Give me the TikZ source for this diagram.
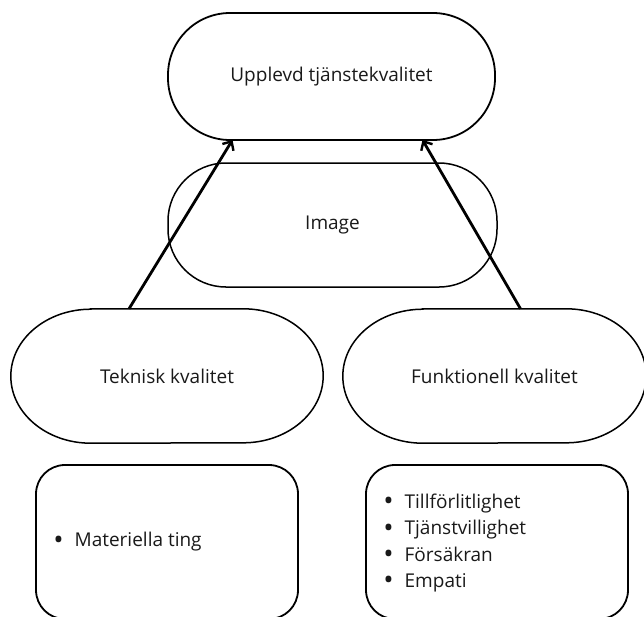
\documentclass[tikz,border=0pt]{standalone}
\usepackage{fontspec}
\usepackage{graphicx}
\setmainfont{Open Sans}
\usetikzlibrary{arrows.meta,positioning,calc}

% bullet used in the lists
\newcommand\listdot{\raisebox{-0.12em}{\scalebox{1.45}{•}}\hspace{11pt}}

% outline of a capsule with half-elliptic ends around node #1
% (#2 = horizontal radius of the ends, #3 = vertical radius)
\newcommand\capsuleoutline[3]{%
  \draw[capsuleline] ($(#1.north west)+(#2,0)$) -- ($(#1.north east)+(-#2,0)$)
    arc[start angle=-90, end angle=90, x radius=#2, y radius=#3]
    -- ($(#1.south west)+(#2,0)$)
    arc[start angle=90, end angle=270, x radius=#2, y radius=#3] -- cycle;}

\tikzset{
  stadium/.style={draw=black, line width=1.5pt, fill=white, rectangle,
    inner sep=0pt, text=black!90,
    font=\fontsize{19}{24}\selectfont},
  capsuletext/.style={draw=none, rectangle, inner sep=0pt, text=black!90,
    font=\fontsize{19}{24}\selectfont},
  capsuleline/.style={draw=black, line width=1.5pt},
  listbox/.style={draw=black, line width=1.8pt, rectangle, rounded corners=29pt,
    inner sep=0pt},
  listtext/.style={anchor=west, inner sep=0pt, text=black!90, align=left,
    font=\fontsize{19}{26.3}\selectfont},
  arr/.style={line width=2.8pt, -{Straight Barb[length=7pt,width=13pt,line width=2.4pt]}},
}

\begin{document}
\begin{tikzpicture}[x=1pt,y=-1pt]
  \useasboundingbox (0,0) rectangle (644,616);
  \clip (0,0) rectangle (644,616);

  % middle and top stadiums
  \node[stadium, minimum width=329pt, minimum height=124pt, rounded corners=58pt]
    (img) at (332.5,225) {Image};
  \node[stadium, minimum width=327pt, minimum height=127pt, rounded corners=62pt,
    line width=1.8pt]
    (top) at (331.5,76.5) {Upplevd tjänstekvalitet};

  % quality dimensions
  \node[capsuletext, minimum width=312pt, minimum height=134pt]
    (tek) at (167,376) {Teknisk kvalitet};
  \node[capsuletext, minimum width=303pt, minimum height=134pt]
    (fun) at (494.5,376) {Funktionell kvalitet};
  \capsuleoutline{tek}{80}{67}
  \capsuleoutline{fun}{80}{67}

  % detail boxes
  \node[listbox, minimum width=262pt, minimum height=154pt] (tekbox) at (167,542) {};
  \node[listbox, minimum width=262pt, minimum height=154pt] (funbox) at (497,542) {};

  \node[listtext] (tekl) at ($(tekbox.west)+(18,0)$)
    {\listdot Materiella ting};
  \node[listtext] (funl) at ($(funbox.west)+(18,1)$)
    {\listdot Tillförlitlighet\\
     \listdot Tjänstvillighet\\
     \listdot Försäkran\\
     \listdot Empati};

  % arrows into the top node
  \draw[arr] ([xshift=-38pt]tek.north) -- ([xshift=-99pt,yshift=1pt]top.south);
  \draw[arr] ([xshift=26pt]fun.north) -- ([xshift=91pt,yshift=1pt]top.south);
\end{tikzpicture}
\end{document}
